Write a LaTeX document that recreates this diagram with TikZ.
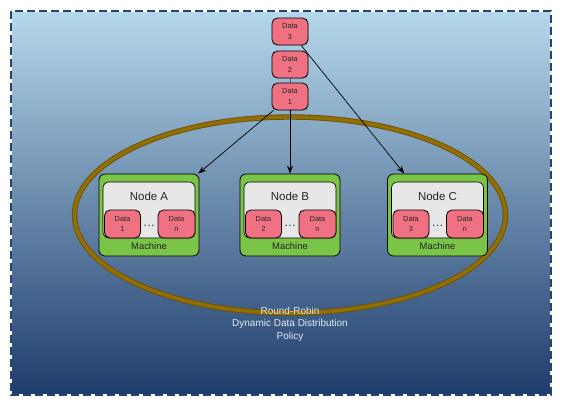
\documentclass[tikz,border=0pt]{standalone}
\usepackage{fontspec}
\setmainfont{Liberation Sans}
\usetikzlibrary{arrows.meta,calc,shadows}
\definecolor{datapink}{RGB}{240,114,130}
\definecolor{machgreen}{RGB}{122,196,72}
\definecolor{graybox}{RGB}{231,231,231}
\definecolor{ringdark}{RGB}{110,80,0}
\definecolor{ringlight}{RGB}{145,110,6}
\definecolor{bgtop}{RGB}{182,216,235}
\definecolor{bgbot}{RGB}{30,60,108}
\definecolor{borderblue}{RGB}{38,66,115}
\definecolor{policytxt}{RGB}{228,234,242}
\begin{document}
\begin{tikzpicture}[x=1pt,y=-1pt,
  databox/.style={draw=black, line width=0.8pt, fill=datapink, rounded corners=5.5pt,
    minimum width=36pt, minimum height=27pt, inner sep=0pt, align=center,
    font=\fontsize{7.4}{10.5}\selectfont, text=black!85,
    drop shadow={opacity=0.25, shadow xshift=0.8pt, shadow yshift=-0.8pt}},
  machine/.style={draw=black, line width=0.8pt, fill=machgreen, rounded corners=6pt,
    minimum width=100pt, minimum height=82pt, inner sep=0pt,
    drop shadow={opacity=0.3, shadow xshift=1pt, shadow yshift=-1pt}},
  grayarea/.style={draw=black, line width=0.6pt, fill=graybox, rounded corners=6pt,
    minimum width=92pt, minimum height=56pt, inner sep=0pt},
  nodetitle/.style={font=\fontsize{11.5}{13}\selectfont, text=black!85, inner sep=0pt},
  machlabel/.style={font=\fontsize{9.4}{11}\selectfont, text=black!85, inner sep=0pt},
  dotsl/.style={font=\fontsize{12}{12}\selectfont, text=black!85, inner sep=0pt, anchor=base},
  link/.style={draw=black, line width=0.7pt, -{Stealth[length=8pt,width=6pt]}},
  policy/.style={font=\fontsize{10}{12.5}\selectfont, text=policytxt, align=center, inner sep=0pt}
]
\useasboundingbox (0,0) rectangle (563,408);
% background
\shade[top color=bgtop, bottom color=bgbot] (11,11) rectangle (551,395);
\draw[white, line width=1.4pt] (11,11) rectangle (551,395);
\draw[borderblue, line width=1.4pt, dash pattern=on 8pt off 4pt] (11,11) rectangle (551,395);
% ring
\draw[ringdark, line width=5.4pt] (290,215) ellipse [x radius=215.5pt, y radius=98pt];
\draw[ringlight, line width=3.6pt] (290,215) ellipse [x radius=215.5pt, y radius=98pt];
% policy text
\node[policy] (pol) at (290,324) {Round-Robin\\Dynamic Data Distribution\\Policy};
% data stack
\node[databox] (d3) at (290,31.5) {Data\\3};
\node[databox] (d2) at (290,64.5) {Data\\2};
\node[databox] (d1) at (290,96.5) {Data\\1};
\draw[black!70, line width=0.8pt] (d2) -- (d1);
% machines
\foreach \nm/\cx/\lt/\num in {A/149/A/1, B/290/B/2, C/437.5/C/3}{
  \node[machine] (m\nm) at (\cx,215) {};
  \node[grayarea] (g\nm) at (\cx,210) {};
  \node[nodetitle] (t\nm) at (\cx,196) {Node \lt};
  \node[databox, minimum height=28pt] (x\nm) at (\cx-26.5,224) {Data\\\num};
  \node[databox, minimum width=37pt, minimum height=28pt] (n\nm) at (\cx+27.5,224) {Data\\n};
  \node[dotsl] (e\nm) at (\cx,226) {\ldots};
  \node[machlabel] (l\nm) at (\cx,246) {Machine};
}
% connectors
\draw[link] (d1) -- (mA);
\draw[link] (d1) -- (mB);
\draw[link] (d3) -- (mC);
\end{tikzpicture}
\end{document}
